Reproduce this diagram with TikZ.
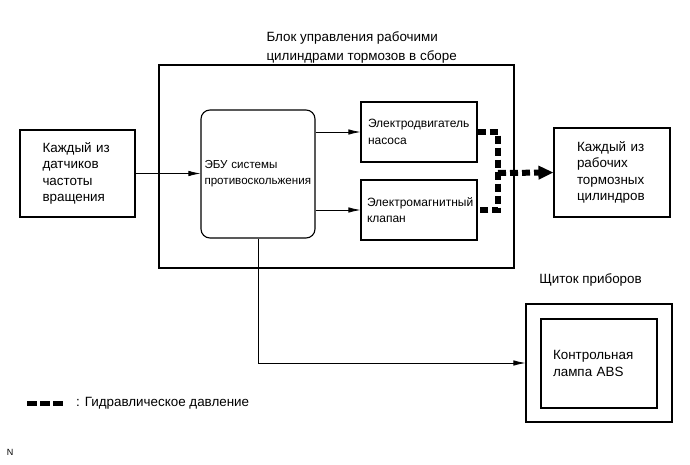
\documentclass[tikz,border=0pt]{standalone}
\usepackage{fontspec}
\setmainfont{Liberation Sans}
\usepackage{tikz}
\usetikzlibrary{arrows.meta,positioning}

\begin{document}
\begin{tikzpicture}[x=1pt, y=-1pt, >={Latex[length=12pt,width=5.5pt]},
    font=\fontsize{13.4}{16.5}\selectfont,
    box/.style={rectangle, draw, line width=1.1pt, inner sep=0pt, align=left},
    small/.style={font=\fontsize{12}{16.5}\selectfont},
    hydro/.style={line width=6pt, dash pattern=on 8pt off 4pt},
    sig/.style={->, line width=0.8pt}]

    \useasboundingbox (0,0) rectangle (690,465);

    % outer assembly and its parts
    \node [box, minimum width=355, minimum height=203] (block) at (336.5,166.5) {};
    \node [anchor=west, align=left, font=\fontsize{13.4}{18.5}\selectfont] (blocktitle) at (263,47.5) {Блок управления рабочими\\цилиндрами тормозов в сборе};
    \node [box, rounded corners=9pt, minimum width=114, minimum height=128, text width=107, font=\fontsize{11.6}{16}\selectfont] (ecu) at (258,174) {ЭБУ системы\\противоскольжения};
    \node [box, small, minimum width=116, minimum height=60, text width=102] (pump) at (419,132) {Электродвигатель\\насоса};
    \node [box, small, minimum width=116, minimum height=60, text width=104] (valve) at (419,210) {Электромагнитный\\клапан};

    % outside boxes
    \node [box, minimum width=115, minimum height=87, text width=70] (sens) at (77.5,173.5) {Каждый из\\датчиков\\частоты\\вращения};
    \node [box, minimum width=116, minimum height=89, text width=70] (cyl) at (612,172.5) {Каждый из\\рабочих\\тормозных\\цилиндров};
    \node [box, minimum width=146, minimum height=118] (panel) at (599,363) {};
    \node [box, minimum width=116, minimum height=89, text width=92] (lamp) at (599,363.5) {Контрольная\\лампа ABS};
    \node (paneltitle) at (590.5,280) {Щиток приборов};

    % signals
    \draw [sig] (sens.east) -- (sens.east -| ecu.west);
    \draw [sig] (ecu.east |- pump.west) -- (pump.west);
    \draw [sig] (ecu.east |- valve.west) -- (valve.west);
    \draw [sig] (ecu.south) |- (panel.west);

    % hydraulic pressure
    \coordinate (jn) at (498,173);
    \draw [hydro] (pump.east) -| (jn) |- (valve.east);
    \draw [hydro, -{Triangle[length=15pt,width=13pt]}] (jn) -- (cyl.west);

    % legend
    \coordinate (lg) at (27,403);
    \draw [line width=5pt, dash pattern=on 10pt off 3pt] (lg) -- ++(36,0) coordinate (lgend);
    \node [anchor=west, inner sep=0pt] (lgtext) at (76,403) {: Гидравлическое давление};
    \node [font=\fontsize{9}{11}\selectfont] (mark) at (10,452) {N};
\end{tikzpicture}
\end{document}
